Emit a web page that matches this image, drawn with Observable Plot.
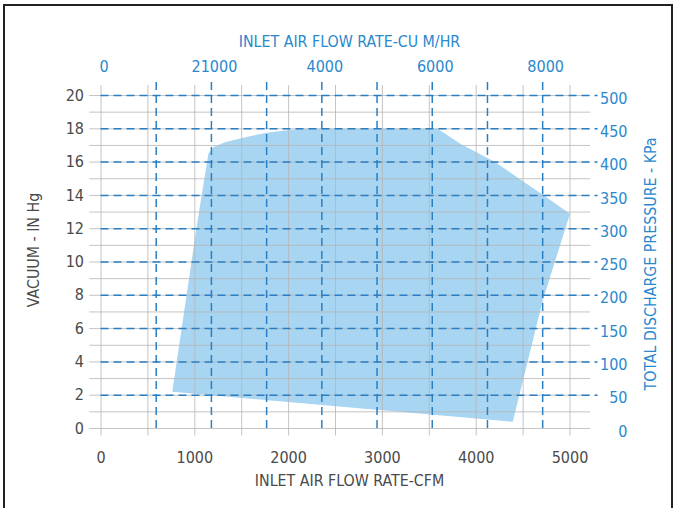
<!DOCTYPE html>
<html><head><meta charset="utf-8">
<script src="https://cdn.jsdelivr.net/npm/d3@7"></script>
<script src="https://cdn.jsdelivr.net/npm/@observablehq/plot@0.6"></script>
<style>
body{margin:0;background:#fff;}
#wrap{position:relative;width:677px;height:508px;overflow:hidden;}
#frame{position:absolute;left:3px;top:4px;width:666px;height:530px;border:2px solid #222;pointer-events:none;}
svg text{font-family:"Liberation Sans Narrow","DejaVu Sans Condensed","Liberation Sans",Arial,sans-serif;font-stretch:condensed;}
</style></head><body><div id="wrap"><div id="frame"></div></div>
<script>
// Tick values / labels
const cfmTicks = [0, 1000, 2000, 3000, 4000, 5000];
const cfmGrid = [0, 500, 1000, 1500, 2000, 2500, 3000, 3500, 4000, 4500, 5000];
const vacTicks = [0, 2, 4, 6, 8, 10, 12, 14, 16, 18, 20];
const vacGrid = [0,1,2,3,4,5,6,7,8,9,10,11,12,13,14,15,16,17,18,19,20];
const kpaTicks = [0, 50, 100, 150, 200, 250, 300, 350, 400, 450, 500];
const m3hTicks = [0, 2000, 4000, 6000, 8000];
const m3hTickLabels = ["0", "21000", "4000", "6000", "8000"];
const m3hDash = [1000, 2000, 3000, 4000, 5000, 6000, 7000, 8000];
const CFM_TO_M3H = 1.699;
const KPA_PER_INHG = 25;

// Operating envelope (CFM, in Hg)
const envCfm = [760, 1030, 1145, 1200, 1330, 1540, 1800, 2130, 3590, 3830, 4200, 4720, 5000, 4710, 4390];
const envVac = [2.2, 12.5, 16.5, 16.9, 17.2, 17.5, 17.8, 18.0, 18.0, 17.1, 16.0, 14.0, 12.9, 7.7, 0.4];
const envelope = envCfm.map((c, i) => ({cfm: c, vac: envVac[i]}));

const blue = "#2a7fc4";
const blueText = "#2a88cd";
const grayText = "#4a4a4a";
const font = '"Liberation Sans Narrow","DejaVu Sans Condensed","Liberation Sans",Arial,sans-serif';

const chart = Plot.plot({
  width: 677,
  height: 508,
  marginLeft: 100.5,
  marginRight: 107.5,
  marginTop: 95,
  marginBottom: 80,
  x: {domain: [0, 5000], axis: null},
  y: {domain: [0, 20], axis: null},
  style: {fontFamily: font, background: "transparent"},
  marks: [
    Plot.line(envelope, {x: "cfm", y: "vac", fill: "#a8d5f2", stroke: "none"}),
    Plot.ruleX(cfmGrid, {x: d => d, y1: -0.45, y2: 20.6, stroke: "#b5b5b5", strokeWidth: 0.8}),
    Plot.ruleY(vacGrid, {y: d => d, x1: -120, x2: 5220, stroke: "#b5b5b5", strokeWidth: 0.8}),
    Plot.ruleY(vacTicks.filter(d => d > 0), {y: d => d, x1: 0, x2: 5300, stroke: blue, strokeWidth: 1.5, strokeDasharray: "8,5"}),
    Plot.ruleX(m3hDash, {x: d => d / CFM_TO_M3H, y1: 0, y2: 20.8, stroke: blue, strokeWidth: 1.5, strokeDasharray: "8,5"}),
    // left axis
    Plot.text(vacTicks, {y: d => d, text: d => String(d), frameAnchor: "left", textAnchor: "end", dx: -17, fill: grayText, fontSize: 16}),
    Plot.text(["VACUUM - IN Hg"], {frameAnchor: "left", textAnchor: "middle", rotate: -90, dx: -67.5, dy: -12, fill: grayText, fontSize: 15.8}),
    // bottom axis
    Plot.text(cfmTicks, {x: d => d, text: d => String(d), frameAnchor: "bottom", textAnchor: "middle", dy: 34, fill: grayText, fontSize: 16}),
    Plot.text(["INLET AIR FLOW RATE-CFM"], {frameAnchor: "bottom", textAnchor: "middle", dx: 14, dy: 57, fill: grayText, fontSize: 15.8}),
    // top axis
    Plot.text(m3hTicks, {x: d => d / CFM_TO_M3H, text: (d, i) => m3hTickLabels[i], frameAnchor: "top", textAnchor: "middle", dx: 3, dy: -34.5, fill: blueText, fontSize: 16}),
    Plot.text(["INLET AIR FLOW RATE-CU M/HR"], {frameAnchor: "top", textAnchor: "middle", dx: 14, dy: -60, fill: blueText, fontSize: 15.8}),
    // right axis
    Plot.text(kpaTicks, {y: d => d / KPA_PER_INHG, text: d => String(d), frameAnchor: "right", textAnchor: "end", dx: 57.5, dy: 3, fill: blueText, fontSize: 16}),
    Plot.text(["TOTAL DISCHARGE PRESSURE - KPa"], {frameAnchor: "right", textAnchor: "middle", rotate: -90, dx: 80.5, dy: 2, fill: blueText, fontSize: 15.8})
  ]
});
document.getElementById("wrap").prepend(chart);
</script>
</body></html>
